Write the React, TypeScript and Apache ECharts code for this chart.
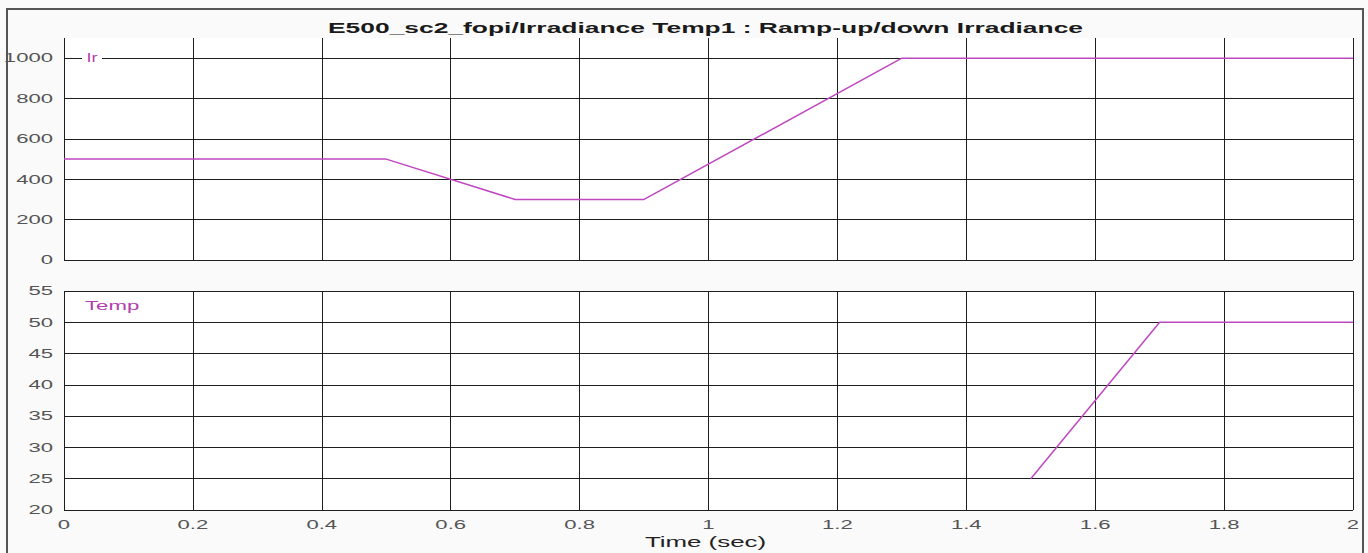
import React, { useEffect, useRef } from "react";
import * as echarts from "echarts";

const chartTitle = "E500_sc2_fopi/Irradiance Temp1 : Ramp-up/down Irradiance";
const xAxisTitle = "Time (sec)";
const irTime = [0, 0.5, 0.7, 0.9, 1.3, 2];
const irValues = [500, 500, 300, 300, 1000, 1000];
const tempTime = [1.5, 1.7, 2];
const tempValues = [25, 50, 50];
const irTicks = [0, 200, 400, 600, 800, 1000];
const tempTicks = [20, 25, 30, 35, 40, 45, 50, 55];
const timeTicks = [0, 0.2, 0.4, 0.6, 0.8, 1, 1.2, 1.4, 1.6, 1.8, 2];
const irName = "Ir";
const tempName = "Temp";

const LINE = "#bf48c0";
const GRIDC = "#1e1e1e";
const LABELC = "#555555";
const SX = 1.7;

export default function App() {
  const ref = useRef<HTMLDivElement>(null);
  useEffect(() => {
    if (!ref.current) return;
    const chart = echarts.init(ref.current, null, { renderer: "svg" });
    const xAxisBase = (gridIndex: number) => ({
      type: "value" as const,
      gridIndex,
      min: 0,
      max: 2,
      interval: 0.2,
      axisLine: { show: false },
      axisTick: { show: false },
      axisLabel: { show: false },
      splitLine: { show: true, showMinLine: true, showMaxLine: true, lineStyle: { color: GRIDC, width: 1 } },
    });
    chart.setOption({
      animation: false,
      backgroundColor: "#fafafa",
      grid: [
        { left: 64, right: 15, top: 38, height: 222, show: true, backgroundColor: "#ffffff", borderWidth: 0 },
        { left: 64, right: 15, top: 291, height: 219, show: true, backgroundColor: "#ffffff", borderWidth: 0 },
      ],
      xAxis: [xAxisBase(0), xAxisBase(1)],
      yAxis: [
        {
          type: "value",
          gridIndex: 0,
          min: 0,
          max: 1100,
          interval: 200,
          axisLine: { show: false },
          axisTick: { show: false },
          axisLabel: { show: false },
          splitLine: { show: true, showMinLine: true, showMaxLine: false, lineStyle: { color: GRIDC, width: 1 } },
        },
        {
          type: "value",
          gridIndex: 1,
          min: 20,
          max: 55,
          interval: 5,
          axisLine: { show: false },
          axisTick: { show: false },
          axisLabel: { show: false },
          splitLine: { show: true, showMinLine: true, showMaxLine: true, lineStyle: { color: GRIDC, width: 1 } },
        },
      ],
      series: [
        {
          type: "line",
          xAxisIndex: 0,
          yAxisIndex: 0,
          data: irTime.map((t, i) => [t, irValues[i]]),
          showSymbol: false,
          lineStyle: { color: LINE, width: 1.5 },
          z: 5,
        },
        {
          type: "line",
          xAxisIndex: 1,
          yAxisIndex: 1,
          data: tempTime.map((t, i) => [t, tempValues[i]]),
          showSymbol: false,
          lineStyle: { color: LINE, width: 1.5 },
          z: 5,
        },
      ],
    });

    const font = '13px "Liberation Sans", Arial, sans-serif';
    const graphics: any[] = [];
    irTicks.forEach((v) => {
      const p = chart.convertToPixel({ xAxisIndex: 0, yAxisIndex: 0 }, [0, v]) as number[];
      graphics.push({
        type: "text", x: p[0] - 11, y: p[1], scaleX: SX, z: 100,
        style: { text: String(v), align: "right", verticalAlign: "middle", font, fill: LABELC },
      });
    });
    tempTicks.forEach((v) => {
      const p = chart.convertToPixel({ xAxisIndex: 1, yAxisIndex: 1 }, [0, v]) as number[];
      graphics.push({
        type: "text", x: p[0] - 11, y: p[1], scaleX: SX, z: 100,
        style: { text: String(v), align: "right", verticalAlign: "middle", font, fill: LABELC },
      });
    });
    timeTicks.forEach((t) => {
      const p = chart.convertToPixel({ xAxisIndex: 1, yAxisIndex: 1 }, [t, 20]) as number[];
      graphics.push({
        type: "text", x: p[0], y: p[1] + 15, scaleX: SX, z: 100,
        style: { text: String(t), align: "center", verticalAlign: "middle", font, fill: LABELC },
      });
    });
    const pL = chart.convertToPixel({ xAxisIndex: 1, yAxisIndex: 1 }, [0, 20]) as number[];
    const pR = chart.convertToPixel({ xAxisIndex: 1, yAxisIndex: 1 }, [2, 20]) as number[];
    const cx = (pL[0] + pR[0]) / 2 - 3;
    graphics.push({
      type: "text", x: cx, y: pL[1] + 32, scaleX: 1.85, z: 100,
      style: { text: xAxisTitle, align: "center", verticalAlign: "middle", font: '14px "Liberation Sans", Arial, sans-serif', fill: "#222" },
    });
    graphics.push({
      type: "text", x: cx, y: 28, scaleX: 1.76, z: 100,
      style: { text: chartTitle, align: "center", verticalAlign: "middle", font: 'bold 15px "Liberation Sans", Arial, sans-serif', fill: "#1a1a1a" },
    });
    const pIr = chart.convertToPixel({ xAxisIndex: 0, yAxisIndex: 0 }, [0, 1000]) as number[];
    graphics.push({
      type: "text", x: pIr[0] + 18, y: pIr[1], scaleX: 1.5, z: 100,
      style: { text: irName, align: "left", verticalAlign: "middle", font: '12px "Liberation Sans", Arial, sans-serif', fill: "#b040b0", backgroundColor: "#ffffff", padding: [0, 3] },
    });
    const pT = chart.convertToPixel({ xAxisIndex: 1, yAxisIndex: 1 }, [0, 55]) as number[];
    graphics.push({
      type: "text", x: pT[0] + 21, y: pT[1] + 15, scaleX: 1.85, z: 100,
      style: { text: tempName, align: "left", verticalAlign: "middle", font: '12px "Liberation Sans", Arial, sans-serif', fill: "#b040b0" },
    });
    graphics.push({
      type: "rect", z: 99, shape: { x: 7, y: 9, width: 1356, height: 560 },
      style: { fill: "none", stroke: "#555555", lineWidth: 2 },
    });
    chart.setOption({ graphic: graphics });
    return () => chart.dispose();
  }, []);
  return <div ref={ref} style={{ position: "fixed", left: 0, top: 0, width: 1368, height: 553 }} />;
}
